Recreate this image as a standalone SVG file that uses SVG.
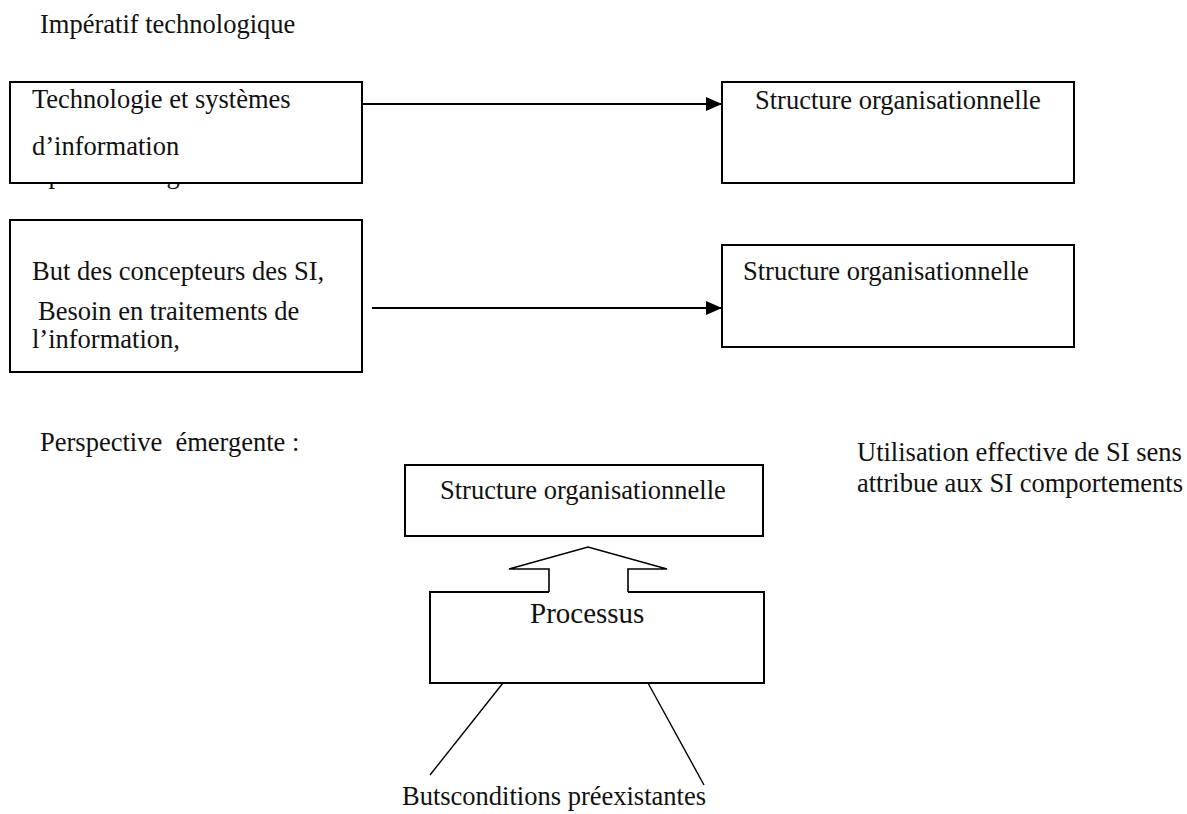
<svg xmlns="http://www.w3.org/2000/svg" width="1187" height="814" viewBox="0 0 1187 814">
<style>
text{font-family:"Liberation Serif","Times New Roman",serif;font-size:26.5px;fill:#111}
.box{fill:#fff;stroke:#000;stroke-width:2}
.conn{fill:none;stroke:#000;stroke-width:2}
.thin{fill:none;stroke:#000;stroke-width:1.4}
</style>
<defs>
<marker id="ah" markerUnits="userSpaceOnUse" markerWidth="16" markerHeight="14" refX="16" refY="7" orient="auto">
<path d="M0,0 L16,7 L0,14 Z" fill="#000"/>
</marker>
</defs>
<g id="labels">
<text x="40" y="33">Impératif technologique</text>
<text x="19" y="182.5">Impératif<tspan x="145">organisationnel</tspan></text>
<text x="40" y="451" xml:space="preserve">Perspective  émergente :</text>
<text x="857" y="461">Utilisation effective de SI sens</text>
<text x="857" y="492">attribue aux SI comportements</text>
<text x="402" y="805">Butsconditions préexistantes</text>
</g>
<g id="node-tech">
<rect class="box" x="10" y="82" width="352" height="101"/>
<text x="32" y="108">Technologie et systèmes</text>
<text x="32" y="155">d’information</text>
</g>
<g id="node-struct1">
<rect class="box" x="722" y="82" width="352" height="101"/>
<text x="755" y="109">Structure organisationnelle</text>
</g>
<g id="node-but">
<rect class="box" x="10" y="220" width="352" height="152"/>
<text x="32" y="280">But des concepteurs des SI,</text>
<text x="38" y="320">Besoin en traitements de</text>
<text x="32" y="348">l’information,</text>
</g>
<g id="node-struct2">
<rect class="box" x="722" y="245" width="352" height="102"/>
<text x="743" y="280">Structure organisationnelle</text>
</g>
<g id="node-struct3">
<rect class="box" x="405" y="465" width="358" height="71"/>
<text x="440" y="499">Structure organisationnelle</text>
</g>
<g id="node-processus">
<rect x="430" y="592" width="334" height="91" fill="#fff"/>
<path class="conn" d="M549,592 H430 V683 H764 V592 H628"/>
<text x="530" y="623" style="font-size:29px">Processus</text>
</g>
<g id="connectors">
<line class="conn" x1="362" y1="104" x2="722" y2="104" marker-end="url(#ah)"/>
<line class="conn" x1="372" y1="308" x2="722" y2="308" marker-end="url(#ah)"/>
<polyline fill="#fff" stroke="#000" stroke-width="1.6" points="549,592 549,569 509,569 588,547 667,569 628,569 628,592"/>
<line class="thin" x1="503" y1="683" x2="430" y2="775"/>
<line class="thin" x1="648" y1="683" x2="704" y2="785"/>
</g>
</svg>
